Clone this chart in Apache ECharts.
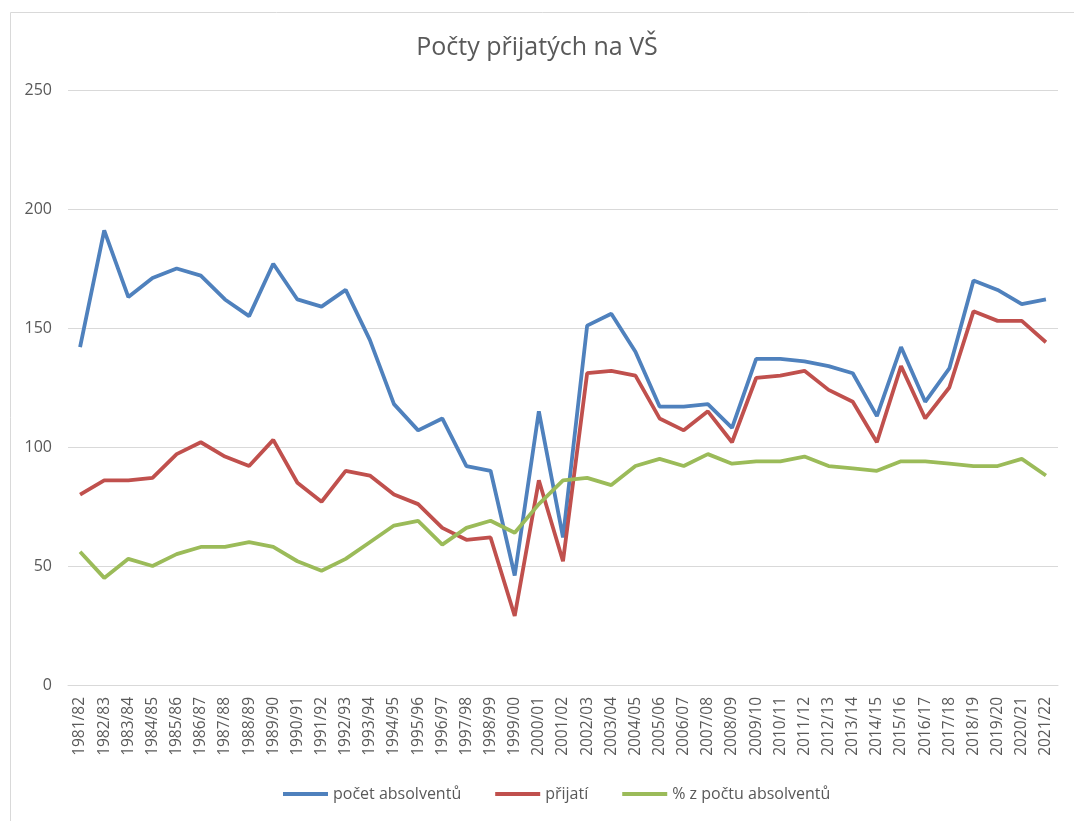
<!DOCTYPE html>
<html>
<head>
<meta charset="utf-8">
<script src="https://cdn.jsdelivr.net/npm/echarts@6/dist/echarts.min.js"></script>
<style>
  html, body { margin: 0; padding: 0; background: #fff; }
  #chart { width: 1074px; height: 821px; }
</style>
</head>
<body>
<div id="chart"></div>
<script>
  // školní roky
  var roky = ['1981/82','1982/83','1983/84','1984/85','1985/86','1986/87','1987/88','1988/89','1989/90','1990/91',
    '1991/92','1992/93','1993/94','1994/95','1995/96','1996/97','1997/98','1998/99','1999/00','2000/01',
    '2001/02','2002/03','2003/04','2004/05','2005/06','2006/07','2007/08','2008/09','2009/10','2010/11',
    '2011/12','2012/13','2013/14','2014/15','2015/16','2016/17','2017/18','2018/19','2019/20','2020/21','2021/22']

  var absolventi = [142,191,163,171,175,172,162,155,177,162,
    159,166,145,118,107,112,92,90,46,115,
    62,151,156,140,117,117,118,108,137,137,
    136,134,131,113,142,119,133,170,166,160,162]

  var prijati = [80,86,86,87,97,102,96,92,103,85,
    77,90,88,80,76,66,61,62,29,86,
    52,131,132,130,112,107,115,102,129,130,
    132,124,119,102,134,112,125,157,153,153,144]

  var procenta = [56,45,53,50,55,58,58,60,58,52,
    48,53,60,67,69,59,66,69,64,76,
    86,87,84,92,95,92,97,93,94,94,
    96,92,91,90,94,94,93,92,92,95,88]

  var yTicks = [0, 250, 50]   // min, max, krok

  var myChart = echarts.init(document.getElementById('chart'))
  var textColor = '#595959'
  var font = '"Open Sans", "Noto Sans", sans-serif'

  function linka(name, data, color) {
    return {
      name: name,
      type: 'line',
      data: data,
      symbol: 'none',
      lineStyle: { width: 3.8, color: color },
      itemStyle: { color: color }
    }
  }

  myChart.setOption({
    animation: false,
    graphic: [{
      type: 'rect',
      shape: { x: 10.5, y: 12.5, width: 1080, height: 820 },
      style: { fill: 'none', stroke: '#d9d9d9', lineWidth: 1 },
      silent: true
    }],
    title: {
      text: 'Počty přijatých na VŠ',
      left: 'center',
      top: 30,
      textStyle: { color: textColor, fontSize: 25, fontWeight: 'normal', fontFamily: font }
    },
    legend: {
      bottom: 14,
      left: 278,
      icon: 'rect',
      itemWidth: 45,
      itemHeight: 4,
      itemGap: 34,
      textStyle: { color: textColor, fontSize: 16, fontFamily: font },
      data: ['počet absolventů', 'přijatí', '% z počtu absolventů']
    },
    grid: { left: 68, right: 16, top: 90, bottom: 136 },
    xAxis: {
      type: 'category',
      boundaryGap: true,
      data: roky,
      axisLine: { lineStyle: { color: '#d9d9d9' } },
      axisTick: { show: false },
      axisLabel: {
        interval: 0,
        rotate: 90,
        color: textColor,
        fontSize: 15.5,
        fontFamily: font,
        margin: 12
      }
    },
    yAxis: {
      type: 'value',
      min: yTicks[0],
      max: yTicks[1],
      interval: yTicks[2],
      axisLine: { show: false },
      axisTick: { show: false },
      axisLabel: { color: textColor, fontSize: 16, fontFamily: font, margin: 16 },
      splitLine: { lineStyle: { color: '#d9d9d9' } }
    },
    series: [
      linka('počet absolventů', absolventi, '#4f81bd'),
      linka('přijatí', prijati, '#c0504d'),
      linka('% z počtu absolventů', procenta, '#9bbb59')
    ]
  })
</script>
</body>
</html>
